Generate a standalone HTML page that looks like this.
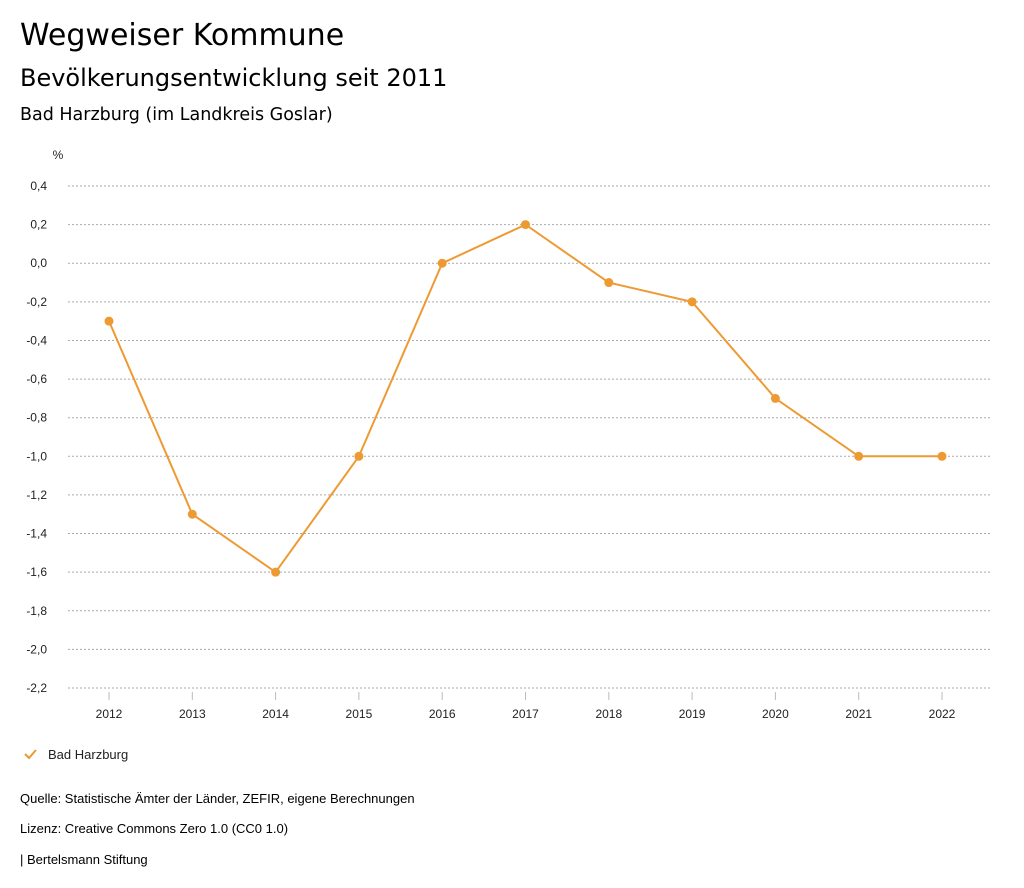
<!DOCTYPE html>
<html><head><meta charset="utf-8"><style>
body{margin:0;background:#fff;font-family:"Liberation Sans","DejaVu Sans",sans-serif;color:#000;}
#wrap{position:relative;width:1024px;height:888px;overflow:hidden;}
.t{position:absolute;left:20px;white-space:nowrap;}
.h{font-family:"DejaVu Sans","Liberation Sans",sans-serif;}
</style></head><body>
<div id="wrap">
<div class="t h" style="top:18px;font-size:30px;">Wegweiser Kommune</div>
<div class="t h" style="top:64px;font-size:24px;">Bevölkerungsentwicklung seit 2011</div>
<div class="t h" style="top:105px;font-size:17.5px;">Bad Harzburg (im Landkreis Goslar)</div>
<svg id="chart" width="1024" height="888" style="position:absolute;left:0;top:0"></svg>
<div class="t" style="top:791px;font-size:13px;">Quelle: Statistische Ämter der Länder, ZEFIR, eigene Berechnungen</div>
<div class="t" style="top:821px;font-size:13px;">Lizenz: Creative Commons Zero 1.0 (CC0 1.0)</div>
<div class="t" style="top:852px;font-size:13px;">| Bertelsmann Stiftung</div>
</div>
<script>
const years=["2012","2013","2014","2015","2016","2017","2018","2019","2020","2021","2022"];
const values=[-0.3,-1.3,-1.6,-1.0,0.0,0.2,-0.1,-0.2,-0.7,-1.0,-1.0];
const yTicks=[0.4,0.2,0.0,-0.2,-0.4,-0.6,-0.8,-1.0,-1.2,-1.4,-1.6,-1.8,-2.0,-2.2];
const svg=document.getElementById('chart');
const NS='http://www.w3.org/2000/svg';
const yMax=0.4,yMin=-2.2,yTop=186,yBot=688;
const xLeft=109,xRight=942,gL=68,gR=990;
function yS(v){return yTop+(yMax-v)/(yMax-yMin)*(yBot-yTop);}
function xS(i){return xLeft+i*(xRight-xLeft)/(years.length-1);}
function mk(tag,attrs){const e=document.createElementNS(NS,tag);for(const k in attrs)e.setAttribute(k,attrs[k]);svg.appendChild(e);return e;}
const font='"Liberation Sans","DejaVu Sans",sans-serif';
let u=mk('text',{x:58,y:159,'font-size':12,'text-anchor':'middle','font-family':font,fill:'#222'});u.textContent='%';


yTicks.forEach(v=>{
  const y=yS(v);
  const g=mk('line',{x1:gL,x2:gR,y1:y,y2:y,stroke:'#aaa','stroke-width':1,'stroke-dasharray':'2,2'});
  
  
  const t=mk('text',{x:47,y:y+4,'font-size':12,'text-anchor':'end','font-family':font,fill:'#222'});
  t.textContent=v.toFixed(1).replace('.',',').replace('-0,0','0,0');
  
  
});
years.forEach((yr,i)=>{
  const x=xS(i);
  const tk=mk('line',{x1:x,x2:x,y1:692,y2:700,stroke:'#bbb','stroke-width':1});
  
  
  const t=mk('text',{x:x,y:718,'font-size':12,'text-anchor':'middle','font-family':font,fill:'#222'});
  t.textContent=yr;
  
  
});
const pts=values.map((v,i)=>xS(i)+','+yS(v)).join(' ');
const line=mk('polyline',{points:pts,fill:'none',stroke:'#ee9a33','stroke-width':2});


values.forEach((v,i)=>{
  const c=mk('circle',{cx:xS(i),cy:yS(v),r:4.5,fill:'#ee9a33'});
  
  
});
const chk=mk('polyline',{points:'25,754 29,758 36,750',fill:'none',stroke:'#ee9a33','stroke-width':2});


const lt=mk('text',{x:48,y:759,'font-size':13,'font-family':font,fill:'#222'});
lt.textContent='Bad Harzburg';


</script>
</body></html>
